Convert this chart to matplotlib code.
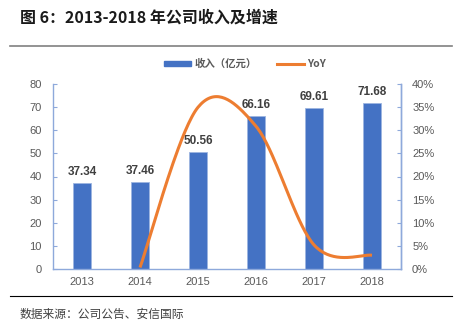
import numpy as np
import matplotlib
matplotlib.use("Agg")
import matplotlib.pyplot as plt
from matplotlib.lines import Line2D
from matplotlib.patches import Patch

plt.rcParams['font.family'] = ['Liberation Sans', 'Noto Sans CJK SC', 'DejaVu Sans']

years = ['2013', '2014', '2015', '2016', '2017', '2018']
revenue = [37.34, 37.46, 50.56, 66.16, 69.61, 71.68]
yoy = [None, 0.32, 34.97, 30.86, 5.21, 2.97]
left_ticks = [0, 10, 20, 30, 40, 50, 60, 70, 80]
right_ticks = [0, 5, 10, 15, 20, 25, 30, 35, 40]

BAR = '#4472C4'
LINE = '#ED7D31'
AXC = '#8EA9DB'
TXT = '#595959'

fig = plt.figure(figsize=(4.62, 3.31), dpi=100)
fig.patch.set_facecolor('white')
ax = fig.add_axes([53/462, 1-269/331, (401-53)/462, (269-84)/331])
x = np.arange(len(years))
ax.bar(x, revenue, width=0.3, color=BAR, edgecolor='#9DB5E0', linewidth=0.6, zorder=2)
for xi, v in zip(x, revenue):
    ax.text(xi, v + 2.2, f'{v:.2f}', ha='center', va='bottom', fontsize=8.5,
            fontweight='bold', color='#404040')
ax.set_xlim(-0.5, len(years) - 0.5)
ax.set_ylim(0, 80)
ax.set_yticks(left_ticks)
ax.set_xticks(x)
ax.set_xticklabels(years)
ax.tick_params(axis='y', direction='in', length=3, color=AXC, labelsize=8, labelcolor=TXT, pad=8)
ax.tick_params(axis='x', length=0, labelsize=8, labelcolor=TXT, pad=6)
for s in ['top']:
    ax.spines[s].set_visible(False)
for s in ['left', 'bottom', 'right']:
    ax.spines[s].set_color(AXC)
    ax.spines[s].set_linewidth(1.0)

ax2 = ax.twinx()
ax2.set_ylim(0, 40)
ax2.set_yticks(right_ticks)
ax2.set_yticklabels([f'{t}%' for t in right_ticks])
ax2.tick_params(axis='y', direction='in', length=3, color=AXC, labelsize=8, labelcolor=TXT, pad=8)
for s in ['top', 'left', 'bottom']:
    ax2.spines[s].set_visible(False)
ax2.spines['right'].set_color(AXC)
ax2.spines['right'].set_linewidth(1.0)

# Smooth line (Catmull-Rom in screen-proportional coordinates, like Excel's smoothing)
px = [xi for xi, v in zip(x, yoy) if v is not None]
py = [v for v in yoy if v is not None]
sx, sy = 58.0, 184.0 / 40.0
P = np.array([[a * sx, b * sy] for a, b in zip(px, py)])
pts = []
n = len(P)
for i in range(n - 1):
    p0 = P[i - 1] if i > 0 else P[i]
    p1, p2 = P[i], P[i + 1]
    p3 = P[i + 2] if i + 2 < n else P[i + 1]
    c1 = p1 + (p2 - p0) / 6.0
    c2 = p2 - (p3 - p1) / 6.0
    t = np.linspace(0, 1, 40)[:, None]
    seg = (1 - t) ** 3 * p1 + 3 * (1 - t) ** 2 * t * c1 + 3 * (1 - t) * t ** 2 * c2 + t ** 3 * p2
    pts.append(seg)
pts = np.vstack(pts)
ax2.plot(pts[:, 0] / sx, pts[:, 1] / sy, color=LINE, linewidth=2.2, solid_capstyle='butt', zorder=3)
ax2.set_xlim(-0.5, len(years) - 0.5)

handles = [Patch(facecolor=BAR, edgecolor=BAR), Line2D([0], [0], color=LINE, lw=2.2)]
fig.legend(handles, ['收入（亿元）', 'YoY'], loc='center', bbox_to_anchor=(245/462, 1-64/331),
           ncol=2, frameon=False, handlelength=2.6, handleheight=0.35,
           columnspacing=2.0, handletextpad=0.3,
           prop={'family': ['Noto Sans CJK SC'], 'size': 7.5, 'weight': 'bold'})
for t in fig.legends[0].get_texts():
    t.set_color(TXT)

fig.text(20/462, 1-18/331, '图 6：2013-2018 年公司收入及增速', fontsize=11.5, fontweight='bold',
         va='center', ha='left', color='#1a1a1a', family=['Noto Sans CJK SC', 'DejaVu Sans'])
fig.add_artist(Line2D([10/462, 452/462], [1-46/331, 1-46/331], color='#808080', lw=1.2))
fig.add_artist(Line2D([10/462, 452/462], [1-296/331, 1-296/331], color='#000000', lw=0.8))
fig.text(20/462, 1-314/331, '数据来源：公司公告、安信国际', fontsize=8.5, style='italic',
         va='center', ha='left', color='#404040', family=['Noto Sans CJK SC', 'DejaVu Sans'])

fig.savefig('out.png', dpi=100, facecolor='white')
